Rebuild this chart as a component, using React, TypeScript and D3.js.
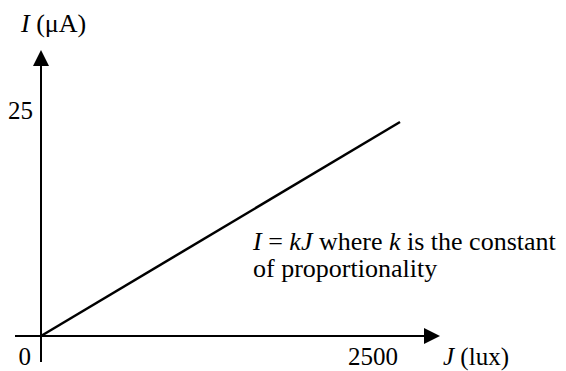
import React from "react";
import * as d3 from "d3";

// Light intensity J (lux) against photocurrent I (µA): a straight line through the origin
const J_VALUES = [0, 2500];
const I_VALUES = [0, 25];
const X_TICK_LABELS = ["0", "2500"];
const Y_TICK_LABELS = ["25"];

const W = 566;
const H = 371;
const FONT = "'Liberation Serif', 'Times New Roman', serif";
const FS = 25;

export default function App() {
  const x = d3.scaleLinear().domain([0, 2500]).range([41, 400]);
  const y = d3.scaleLinear().domain([0, 25]).range([336, 122]);

  const pts: [number, number][] = J_VALUES.map((j, i) => [j, I_VALUES[i]]);
  const line = d3
    .line<[number, number]>()
    .x((d) => x(d[0]))
    .y((d) => y(d[1]));

  const ox = x(0);
  const oy = y(0);

  // axis extents and arrowheads
  const xAxisStart = 15;
  const xTip = 440;
  const yAxisEnd = 362;
  const yTip = 50;
  const ah = 16; // arrow length
  const aw = 8; // arrow half width

  return (
    <svg
      width={W}
      height={H}
      style={{ position: "absolute", left: 0, top: 0, background: "#fff" }}
      fontFamily={FONT}
      fontSize={FS}
    >
      <rect width={W} height={H} fill="#fff" />
      {/* axes */}
      <line x1={xAxisStart} y1={oy} x2={xTip - ah + 2} y2={oy} stroke="#000" strokeWidth={2} />
      <line x1={ox} y1={yAxisEnd} x2={ox} y2={yTip + ah - 2} stroke="#000" strokeWidth={2} />
      <path
        d={`M${xTip},${oy} L${xTip - ah},${oy - aw} L${xTip - ah},${oy + aw} Z`}
        fill="#000"
      />
      <path
        d={`M${ox},${yTip} L${ox - aw},${yTip + ah} L${ox + aw},${yTip + ah} Z`}
        fill="#000"
      />

      {/* data line */}
      <path d={line(pts) || ""} fill="none" stroke="#000" strokeWidth={2.5} />

      {/* tick labels */}
      <text x={ox - 10} y={365} textAnchor="end">{X_TICK_LABELS[0]}</text>
      <text x={x(2500) - 2} y={365} textAnchor="end">{X_TICK_LABELS[1]}</text>
      <text x={ox - 8} y={119} textAnchor="end">{Y_TICK_LABELS[0]}</text>

      {/* axis titles */}
      <text x={443} y={365}>
        <tspan fontStyle="italic">J</tspan>
        <tspan> (lux)</tspan>
      </text>
      <text x={21} y={32} fontSize={26}>
        <tspan fontStyle="italic">I</tspan>
        <tspan> (μA)</tspan>
      </text>

      {/* annotation */}
      <g fontSize={26}>
        <text x={253} y={250}>
          <tspan fontStyle="italic">I</tspan>
          <tspan> = </tspan>
          <tspan fontStyle="italic">kJ</tspan>
          <tspan> where </tspan>
          <tspan fontStyle="italic">k</tspan>
          <tspan> is the constant</tspan>
        </text>
        <text x={253} y={277}>of proportionality</text>
      </g>
    </svg>
  );
}
